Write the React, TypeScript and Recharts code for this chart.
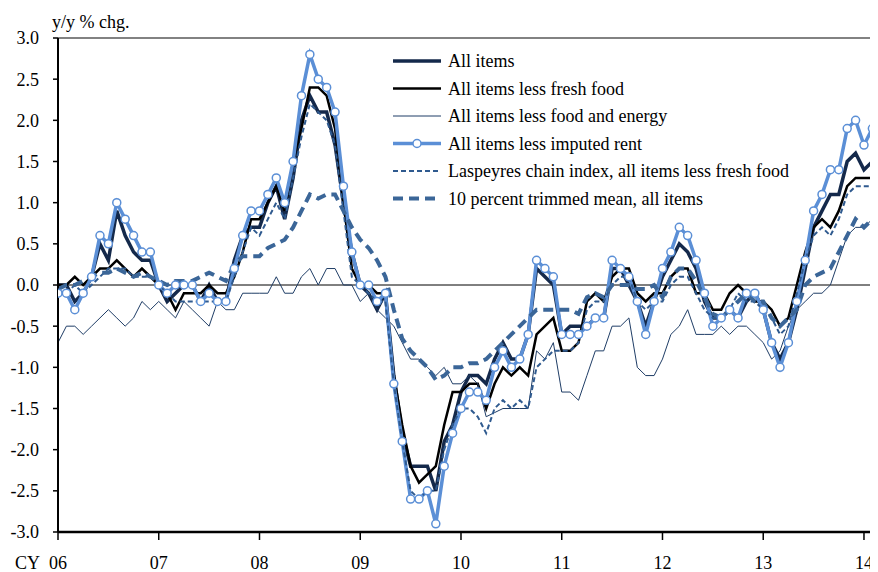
import React from "react";
import { Legend, Line, LineChart, ReferenceLine, XAxis, YAxis } from "recharts";

// monthly y/y % changes, Jan 2006 .. Mar 2014
const yearLabels = ["06", "07", "08", "09", "10", "11", "12", "13", "14"];
const yTicks = [-3, -2.5, -2, -1.5, -1, -0.5, 0, 0.5, 1, 1.5, 2, 2.5, 3];

const allItems = [
  0.0, 0.0, -0.2, -0.1, 0.1, 0.5, 0.3, 0.9, 0.6, 0.4, 0.3, 0.3,
  0.0, -0.2, -0.1, 0.0, 0.0, -0.2, 0.0, -0.2, -0.2, 0.3, 0.6, 0.7,
  0.7, 1.0, 1.2, 0.8, 1.3, 2.0, 2.3, 2.1, 2.1, 1.7, 1.0, 0.4,
  0.0, -0.1, -0.3, -0.1, -1.1, -1.8, -2.2, -2.2, -2.2, -2.5, -1.9, -1.7,
  -1.3, -1.1, -1.1, -1.2, -0.9, -0.7, -0.9, -0.9, -0.6, 0.2, 0.1, 0.0,
  -0.6, -0.5, -0.5, -0.5, -0.4, -0.4, 0.2, 0.2, 0.0, -0.2, -0.5, -0.2,
  0.1, 0.3, 0.5, 0.4, 0.2, -0.2, -0.4, -0.4, -0.3, -0.4, -0.2, -0.1,
  -0.3, -0.7, -0.9, -0.7, -0.3, 0.2, 0.7, 0.9, 1.1, 1.1, 1.5, 1.6,
  1.4, 1.5, 1.6,
];

const lessFreshFood = [
  0.0, 0.0, 0.1, 0.0, 0.1, 0.2, 0.2, 0.3, 0.2, 0.1, 0.2, 0.1,
  0.0, -0.1, -0.3, -0.1, -0.1, -0.1, 0.0, -0.1, -0.1, 0.1, 0.4, 0.8,
  0.8, 1.0, 1.2, 0.9, 1.5, 1.9, 2.4, 2.4, 2.3, 1.9, 1.0, 0.2,
  0.0, 0.0, -0.1, -0.1, -1.1, -1.7, -2.2, -2.4, -2.3, -2.2, -1.7, -1.3,
  -1.3, -1.2, -1.2, -1.5, -1.2, -1.0, -1.1, -1.0, -1.1, -0.6, -0.5, -0.4,
  -0.8, -0.8, -0.7, -0.2, -0.1, -0.2, 0.1, 0.2, 0.2, -0.1, -0.2, -0.1,
  -0.1, 0.1, 0.2, 0.2, -0.1, -0.1, -0.3, -0.3, -0.1, 0.0, -0.1, -0.2,
  -0.2, -0.3, -0.5, -0.4, 0.0, 0.4, 0.7, 0.8, 0.7, 0.9, 1.2, 1.3,
  1.3, 1.3, 1.3,
];

const lessFoodEnergy = [
  -0.7, -0.5, -0.5, -0.6, -0.5, -0.4, -0.3, -0.4, -0.5, -0.4, -0.2, -0.3,
  -0.2, -0.3, -0.4, -0.2, -0.3, -0.4, -0.5, -0.2, -0.3, -0.3, -0.1, -0.1,
  -0.1, -0.1, 0.1, -0.1, -0.1, 0.1, 0.2, 0.0, 0.2, 0.2, 0.0, 0.0,
  -0.2, -0.1, -0.3, -0.4, -0.5, -0.7, -0.9, -0.9, -1.0, -1.1, -1.0, -1.2,
  -1.2, -1.1, -1.2, -1.6, -1.55, -1.5, -1.5, -1.5, -1.5, -0.8, -0.9, -0.7,
  -1.3, -1.3, -1.4, -1.1, -0.8, -0.8, -0.5, -0.5, -0.4, -1.0, -1.1, -1.1,
  -0.9, -0.6, -0.5, -0.3, -0.6, -0.6, -0.6, -0.5, -0.6, -0.5, -0.5, -0.6,
  -0.7, -0.9, -0.8, -0.5, -0.3, -0.2, -0.1, -0.1, 0.0, 0.3, 0.6, 0.7,
  0.7, 0.8, 0.8,
];

const lessImputedRent = [
  -0.1, -0.1, -0.3, -0.1, 0.1, 0.6, 0.5, 1.0, 0.8, 0.6, 0.4, 0.4,
  0.0, -0.1, 0.0, 0.0, 0.0, -0.2, -0.1, -0.2, -0.2, 0.2, 0.6, 0.9,
  0.9, 1.1, 1.3, 1.0, 1.5, 2.3, 2.8, 2.5, 2.4, 2.1, 1.2, 0.4,
  0.0, 0.0, -0.2, -0.1, -1.2, -1.9, -2.6, -2.6, -2.5, -2.9, -2.2, -1.8,
  -1.5, -1.3, -1.3, -1.4, -1.0, -0.8, -1.0, -0.9, -0.6, 0.3, 0.2, 0.1,
  -0.6, -0.6, -0.6, -0.5, -0.4, -0.4, 0.3, 0.2, 0.1, -0.2, -0.6, -0.2,
  0.2, 0.4, 0.7, 0.6, 0.3, -0.1, -0.5, -0.4, -0.3, -0.4, -0.1, -0.1,
  -0.3, -0.7, -1.0, -0.7, -0.2, 0.3, 0.9, 1.1, 1.4, 1.4, 1.9, 2.0,
  1.7, 1.9, 2.0,
];

const laspeyres = [
  -0.1, -0.1, 0.0, -0.1, 0.0, 0.1, 0.2, 0.2, 0.2, 0.1, 0.1, 0.1,
  0.0, -0.1, -0.2, -0.2, -0.2, -0.2, -0.2, -0.2, -0.2, 0.1, 0.4, 0.7,
  0.6, 0.8, 1.0, 0.8, 1.3, 1.8, 2.2, 2.1, 2.0, 1.7, 0.9, 0.1,
  0.0, -0.1, -0.2, -0.2, -1.2, -1.9, -2.5, -2.6, -2.5, -2.5, -2.0, -1.7,
  -1.5, -1.5, -1.6, -1.8, -1.5, -1.4, -1.5, -1.4, -1.5, -1.0, -0.9, -0.8,
  -0.8, -0.8, -0.7, -0.3, -0.2, -0.2, 0.0, 0.1, 0.1, -0.2, -0.3, -0.2,
  -0.2, 0.0, 0.1, 0.1, -0.1, -0.3, -0.4, -0.4, -0.3, -0.1, -0.2, -0.2,
  -0.3, -0.4, -0.6, -0.5, -0.1, 0.3, 0.6, 0.7, 0.6, 0.8, 1.1, 1.2,
  1.2, 1.2, 1.25,
];

const trimmedMean = [
  -0.05, 0.0, 0.0, 0.05, 0.1, 0.15, 0.15, 0.2, 0.15, 0.1, 0.15, 0.1,
  0.05, 0.0, 0.05, 0.05, 0.05, 0.1, 0.15, 0.1, 0.05, 0.25, 0.35, 0.35,
  0.35, 0.45, 0.5, 0.55, 0.7, 0.9, 1.1, 1.05, 1.1, 1.1, 0.9, 0.7,
  0.55, 0.45, 0.3, 0.1, -0.3, -0.65, -0.8, -0.9, -1.0, -1.15, -1.1, -1.0,
  -1.0, -0.95, -0.95, -0.9, -0.8, -0.7, -0.6, -0.5, -0.4, -0.3, -0.3, -0.3,
  -0.3, -0.3, -0.35, -0.15, -0.1, -0.15, 0.0, 0.0, 0.0, -0.05, -0.05, 0.0,
  -0.15, 0.1, 0.2, 0.2, 0.05, -0.15, -0.35, -0.4, -0.3, -0.2, -0.1, -0.2,
  -0.2, -0.4, -0.5, -0.4, -0.3, 0.0, 0.1, 0.15, 0.2, 0.4, 0.6, 0.8,
  0.7, 0.8, 0.8,
];

const seriesNames = [
  "All items",
  "All items less fresh food",
  "All items less food and energy",
  "All items less imputed rent",
  "Laspeyres chain index, all items less fresh food",
  "10 percent trimmed mean, all items",
];

const data = allItems.map((v, i) => ({
  m: i,
  allItems: v,
  lessFreshFood: lessFreshFood[i],
  lessFoodEnergy: lessFoodEnergy[i],
  lessImputedRent: lessImputedRent[i],
  laspeyres: laspeyres[i],
  trimmedMean: trimmedMean[i],
}));

const FONT = "'Liberation Serif', 'Times New Roman', serif";
const NAVY = "#14294b";
const THIN = "#1f3d66";
const LIGHT = "#5b8fd6";
const DASH1 = "#2f5a8f";
const DASH2 = "#3b6698";

const styles = [
  { stroke: NAVY, width: 3.5, dash: undefined, dot: false },
  { stroke: "#000", width: 2.5, dash: undefined, dot: false },
  { stroke: THIN, width: 1, dash: undefined, dot: false },
  { stroke: LIGHT, width: 3.5, dash: undefined, dot: true },
  { stroke: DASH1, width: 2, dash: "5 3", dot: false },
  { stroke: DASH2, width: 4, dash: "10 6", dot: false },
];

const keys = ["allItems", "lessFreshFood", "lessFoodEnergy", "lessImputedRent", "laspeyres", "trimmedMean"];

function LegendBox() {
  return (
    <svg width={480} height={170} style={{ display: "block" }}>
      {seriesNames.map((name, k) => {
        const s = styles[k];
        const cy = 15 + k * 27.5;
        return (
          <g key={name}>
            <line x1={8} x2={56} y1={cy} y2={cy} stroke={s.stroke} strokeWidth={s.width} strokeDasharray={s.dash} />
            {s.dot && <circle cx={32} cy={cy} r={4} fill="#fff" stroke={s.stroke} strokeWidth={1.5} />}
            <text x={63} y={cy + 6} fontFamily={FONT} fontSize={18} fill="#000">
              {name}
            </text>
          </g>
        );
      })}
    </svg>
  );
}

function XTick(props: any) {
  const { x, y, payload } = props;
  const label = yearLabels[Math.round(payload.value / 12)];
  return (
    <g>
      {payload.value === 0 && (
        <text x={x - 18} y={y + 27} textAnchor="end" fontFamily={FONT} fontSize={18} fill="#000">
          CY
        </text>
      )}
      <text x={x} y={y + 27} textAnchor="middle" fontFamily={FONT} fontSize={18} fill="#000">
        {label}
      </text>
    </g>
  );
}

export default function App() {
  return (
    <div style={{ position: "relative", width: 870, height: 564, fontFamily: FONT }}>
      <div style={{ position: "absolute", left: 44, top: 4, fontSize: 18, fontFamily: FONT }}>y/y % chg.</div>
      <LineChart width={870} height={564} data={data} margin={{ top: 30, right: 0, left: 0, bottom: 0 }}>
        <XAxis
          dataKey="m"
          type="number"
          domain={[0, 97.67]}
          allowDataOverflow
          ticks={yearLabels.map((_, k) => k * 12)}
          tick={<XTick />}
          tickSize={8}
          tickMargin={2}
          height={40}
          axisLine={{ stroke: "#000", strokeWidth: 2.5 }}
          tickLine={{ stroke: "#000", strokeWidth: 1.5 }}
        />
        <YAxis
          type="number"
          domain={[-3, 3]}
          ticks={yTicks}
          allowDataOverflow
          width={50}
          tickSize={5}
          tickMargin={14}
          tickFormatter={(v: number) => v.toFixed(1)}
          tick={{ fill: "#000", fontSize: 18, fontFamily: FONT }}
          axisLine={{ stroke: "#000", strokeWidth: 2 }}
          tickLine={{ stroke: "#000", strokeWidth: 1.5 }}
        />
        <ReferenceLine y={3} stroke="#595959" strokeWidth={1.5} />
        <ReferenceLine y={0} stroke="#000" strokeWidth={1} />
        {keys.map((k, idx) => {
          const s = styles[idx];
          return (
            <Line
              key={k}
              type="linear"
              dataKey={k}
              name={seriesNames[idx]}
              stroke={s.stroke}
              strokeWidth={s.width}
              strokeDasharray={s.dash}
              dot={s.dot ? { r: 4, fill: "#fff", stroke: s.stroke, strokeWidth: 1.5 } : false}
              activeDot={false}
              isAnimationActive={false}
            />
          );
        })}
        <Legend
          layout="vertical"
          align="center"
          verticalAlign="middle"
          wrapperStyle={{ left: 377, top: 38, width: 480 }}
          content={() => <LegendBox />}
        />
      </LineChart>
    </div>
  );
}
